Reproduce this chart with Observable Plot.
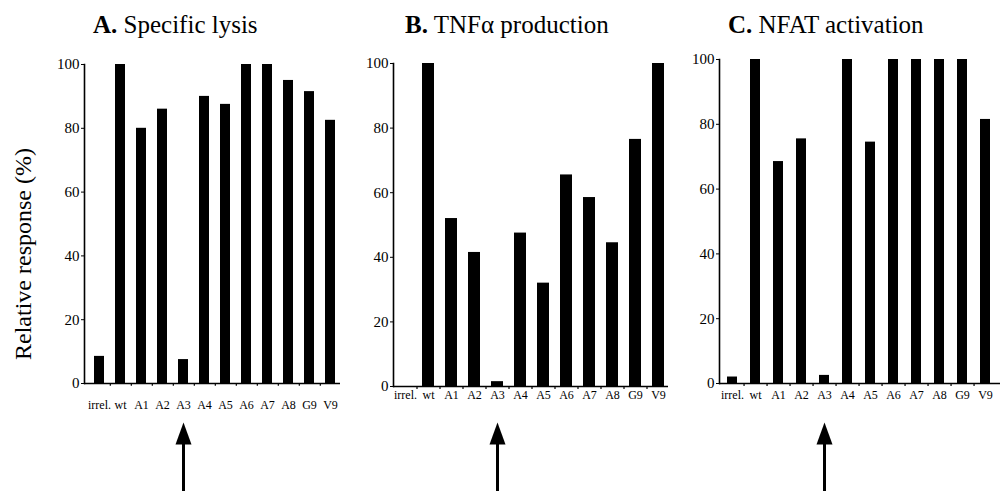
<!DOCTYPE html>
<html>
<head>
<meta charset="utf-8">
<script src="https://cdn.jsdelivr.net/npm/d3@7"></script>
<script src="https://cdn.jsdelivr.net/npm/@observablehq/plot@0.6"></script>
<style>
  html, body { margin: 0; padding: 0; background: white; }
  #wrap { position: relative; width: 1002px; height: 491px; overflow: hidden; background: white; font-family: "Liberation Serif", "Times New Roman", serif; }
  #wrap svg { position: absolute; top: 0; }
  #wrap svg text { font-family: "Liberation Serif", "Times New Roman", serif !important; }
  .title { position: absolute; font-size: 25px; line-height: 1; white-space: nowrap; color: #000; }
  .title b { font-weight: bold; }
  #ylab { position: absolute; font-size: 24px; white-space: nowrap; line-height: 1; transform-origin: center center; }
</style>
</head>
<body>
<div id="wrap"></div>
<script>
const categories = ["irrel.", "wt", "A1", "A2", "A3", "A4", "A5", "A6", "A7", "A8", "G9", "V9"];
const lysisValues = [8.5, 100, 80, 86, 7.5, 90, 87.5, 100, 100, 95, 91.5, 82.5];
const tnfValues = [0, 100, 52, 41.5, 1.5, 47.5, 32, 65.5, 58.5, 44.5, 76.5, 100];
const nfatValues = [2, 100, 68.5, 75.5, 2.5, 100, 74.5, 100, 100, 100, 100, 81.5];
const yTicks = [0, 20, 40, 60, 80, 100];
const panelLetters = ["A.", "B.", "C."];
const panelTitles = ["Specific lysis", "TNFα production", "NFAT activation"];
const yLabel = "Relative response (%)";
const arrowCategory = "A3";

const font = "Liberation Serif, Times New Roman, serif";
const wrap = document.getElementById("wrap");

// layout per panel (pixel geometry only)
const layouts = [
  {left: 0, width: 345, mL: 84, mR: 5, mT: 64, mB: 108, xr: [78.4, 349.7], pad: 0.538, lab: 17, arrowBase: 444, title: [93, 12]},
  {left: 345, width: 325, mL: 48, mR: 2, mT: 63, mB: 105, xr: [42.75, 330.25], pad: 0.5, lab: 4, arrowBase: 444, title: [405, 12]},
  {left: 670, width: 332, mL: 49, mR: 2, mT: 59, mB: 108, xr: [42.9, 333.2], pad: 0.567, lab: 7, arrowBase: 444, title: [728, 12]}
];
const seriesList = [lysisValues, tnfValues, nfatValues];

seriesList.forEach((vals, i) => {
  const L = layouts[i];
  const data = categories.map((c, j) => ({cat: c, v: vals[j]}));
  const h = 491;
  const y0 = h - L.mB, y100 = L.mT;
  const pxPerUnit = (y0 - y100) / 100;
  const toVal = (py) => (y0 - py) / pxPerUnit;
  const step = (L.xr[1] - L.xr[0]) / (categories.length + L.pad);
  const plot = Plot.plot({
    width: L.width,
    height: h,
    marginLeft: L.mL,
    marginRight: L.mR,
    marginTop: L.mT,
    marginBottom: L.mB,
    style: {fontFamily: font, background: "transparent", overflow: "visible"},
    x: {domain: categories, range: L.xr, padding: L.pad, label: null},
    y: {domain: [0, 100], label: null},
    marks: [
      Plot.barY(data, {x: "cat", y: "v", fill: "black"}),
      Plot.ruleY([0], {stroke: "black", strokeWidth: 1.6}),
      Plot.frame({anchor: "left", stroke: "black", strokeWidth: 1.6}),
      Plot.ruleX(categories.slice(0, -1), {x: d => d, y1: 0, y2: -0.9, dx: step / 2, stroke: "black", strokeWidth: 1.2}),
      Plot.axisY({ticks: yTicks, tickSize: 3, tickPadding: 2, tickFormat: d => d, label: null, fontSize: 15, fill: "black", stroke: "black"}),
      Plot.axisX({tickSize: 0, tickPadding: L.lab, label: null, fontSize: 12, fill: "black"}),
      Plot.ruleX([arrowCategory], {x: d => d, y1: toVal(h + 2), y2: toVal(L.arrowBase - 1), stroke: "black", strokeWidth: 3}),
      Plot.vector([arrowCategory], {x: d => d, y: toVal(L.arrowBase), length: 22, r: 8, shape: "spike", anchor: "start", rotate: 0, fill: "black", stroke: "none"})
    ]
  });
  plot.style.left = L.left + "px";
  wrap.appendChild(plot);

  const t = document.createElement("div");
  t.className = "title";
  t.style.left = L.title[0] + "px";
  t.style.top = L.title[1] + "px";
  t.innerHTML = "<b>" + panelLetters[i] + "</b> " + panelTitles[i];
  wrap.appendChild(t);
});

const yl = document.createElement("div");
yl.id = "ylab";
yl.textContent = yLabel;
wrap.appendChild(yl);
const w = yl.offsetWidth, hh = yl.offsetHeight;
yl.style.left = (23 - w / 2) + "px";
yl.style.top = (254 - hh / 2) + "px";
yl.style.transform = "rotate(-90deg)";
</script>
</body>
</html>
